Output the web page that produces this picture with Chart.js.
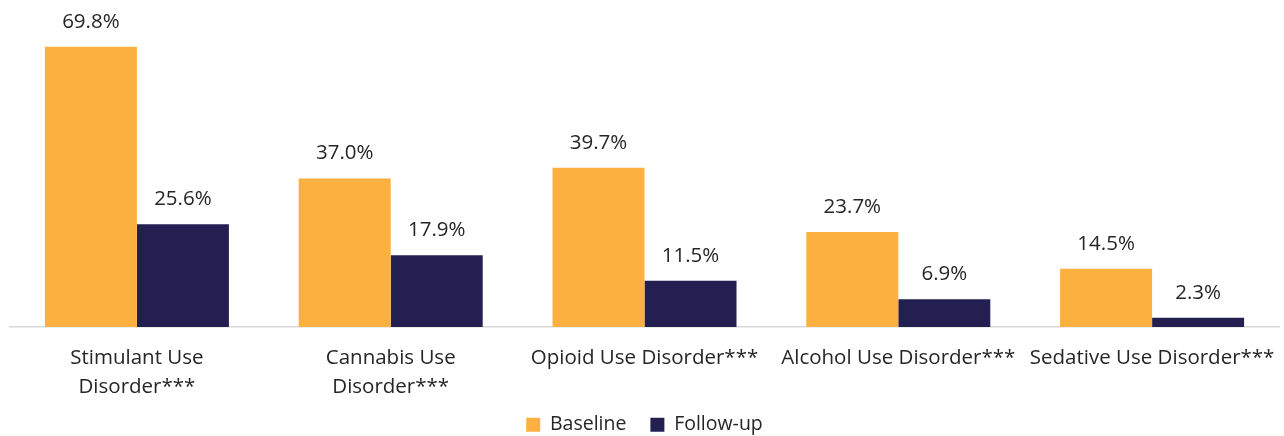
<!DOCTYPE html>
<html lang="en">
  <head>
    <meta charset="UTF-8" />
    <title>Use disorders: baseline vs follow-up</title>
    <script src="https://cdn.jsdelivr.net/npm/chart.js"></script>
    <style>
      html, body { margin: 0; padding: 0; background: #ffffff; }
      #wrap { position: relative; width: 1284px; height: 436px; }
    </style>
  </head>
  <body>
    <div id="wrap">
      <canvas id="myChart"></canvas>
    </div>

    <script>
      const categories = [
        ["Stimulant Use", "Disorder***"],
        ["Cannabis Use", "Disorder***"],
        "Opioid Use Disorder***",
        "Alcohol Use Disorder***",
        "Sedative Use Disorder***"
      ];
      const baseline = [69.8, 37.0, 39.7, 23.7, 14.5];
      const followUp = [25.6, 17.9, 11.5, 6.9, 2.3];

      const FONT = "'Open Sans', 'Liberation Sans', sans-serif";
      const TEXT = "#262626";

      // percentage labels above each bar
      const valueLabels = {
        id: "valueLabels",
        afterDatasetsDraw(chart) {
          const ctx = chart.ctx;
          ctx.save();
          ctx.font = "20.5px " + FONT;
          ctx.fillStyle = TEXT;
          ctx.textAlign = "center";
          ctx.textBaseline = "middle";
          chart.data.datasets.forEach((ds, i) => {
            chart.getDatasetMeta(i).data.forEach((bar, j) => {
              ctx.fillText(ds.data[j].toFixed(1) + "%", bar.x, bar.y - 25);
            });
          });
          ctx.restore();
        }
      };

      // legend padding is also the gap between items, so keep its box short
      // and pull it up a bit after layout
      const legendFit = {
        id: "legendFit",
        beforeLayout(chart) {
          const lg = chart.legend;
          if (lg && !lg._fixedFit) {
            const fit = lg.fit;
            lg.fit = function () {
              fit.call(this);
              this.height = 33;
            };
            lg._fixedFit = true;
          }
        },
        afterLayout(chart) {
          const lg = chart.legend;
          if (lg) {
            lg.top = 391;
            lg.bottom = 436;
          }
        }
      };

      new Chart(document.getElementById("myChart"), {
        type: "bar",
        data: {
          labels: categories,
          datasets: [
            { label: "Baseline", data: baseline, backgroundColor: "#FBB040" },
            { label: "Follow-up", data: followUp, backgroundColor: "#231F51" }
          ]
        },
        options: {
          responsive: true,
          maintainAspectRatio: false,
          animation: false,
          layout: { padding: { left: 10, right: 5, top: 26, bottom: 0 } },
          datasets: { bar: { categoryPercentage: 0.725, barPercentage: 1.0 } },
          plugins: {
            legend: {
              position: "bottom",
              labels: {
                font: { family: FONT, size: 19.5 },
                color: TEXT,
                boxWidth: 14,
                boxHeight: 14,
                padding: 24
              }
            },
            tooltip: { enabled: false }
          },
          scales: {
            x: {
              grid: { display: false, drawTicks: false },
              border: { color: "#d9d9d9", width: 1.5 },
              ticks: {
                font: { family: FONT, size: 20.5, lineHeight: 1.45 },
                color: TEXT,
                maxRotation: 0,
                autoSkip: false,
                padding: 16
              },
              afterFit(scale) {
                scale.height = 76;
                scale.paddingLeft = 0;
                scale.paddingRight = 0;
              }
            },
            y: {
              display: false,
              min: 0,
              max: 75
            }
          }
        },
        plugins: [valueLabels, legendFit]
      });
    </script>
  </body>
</html>
